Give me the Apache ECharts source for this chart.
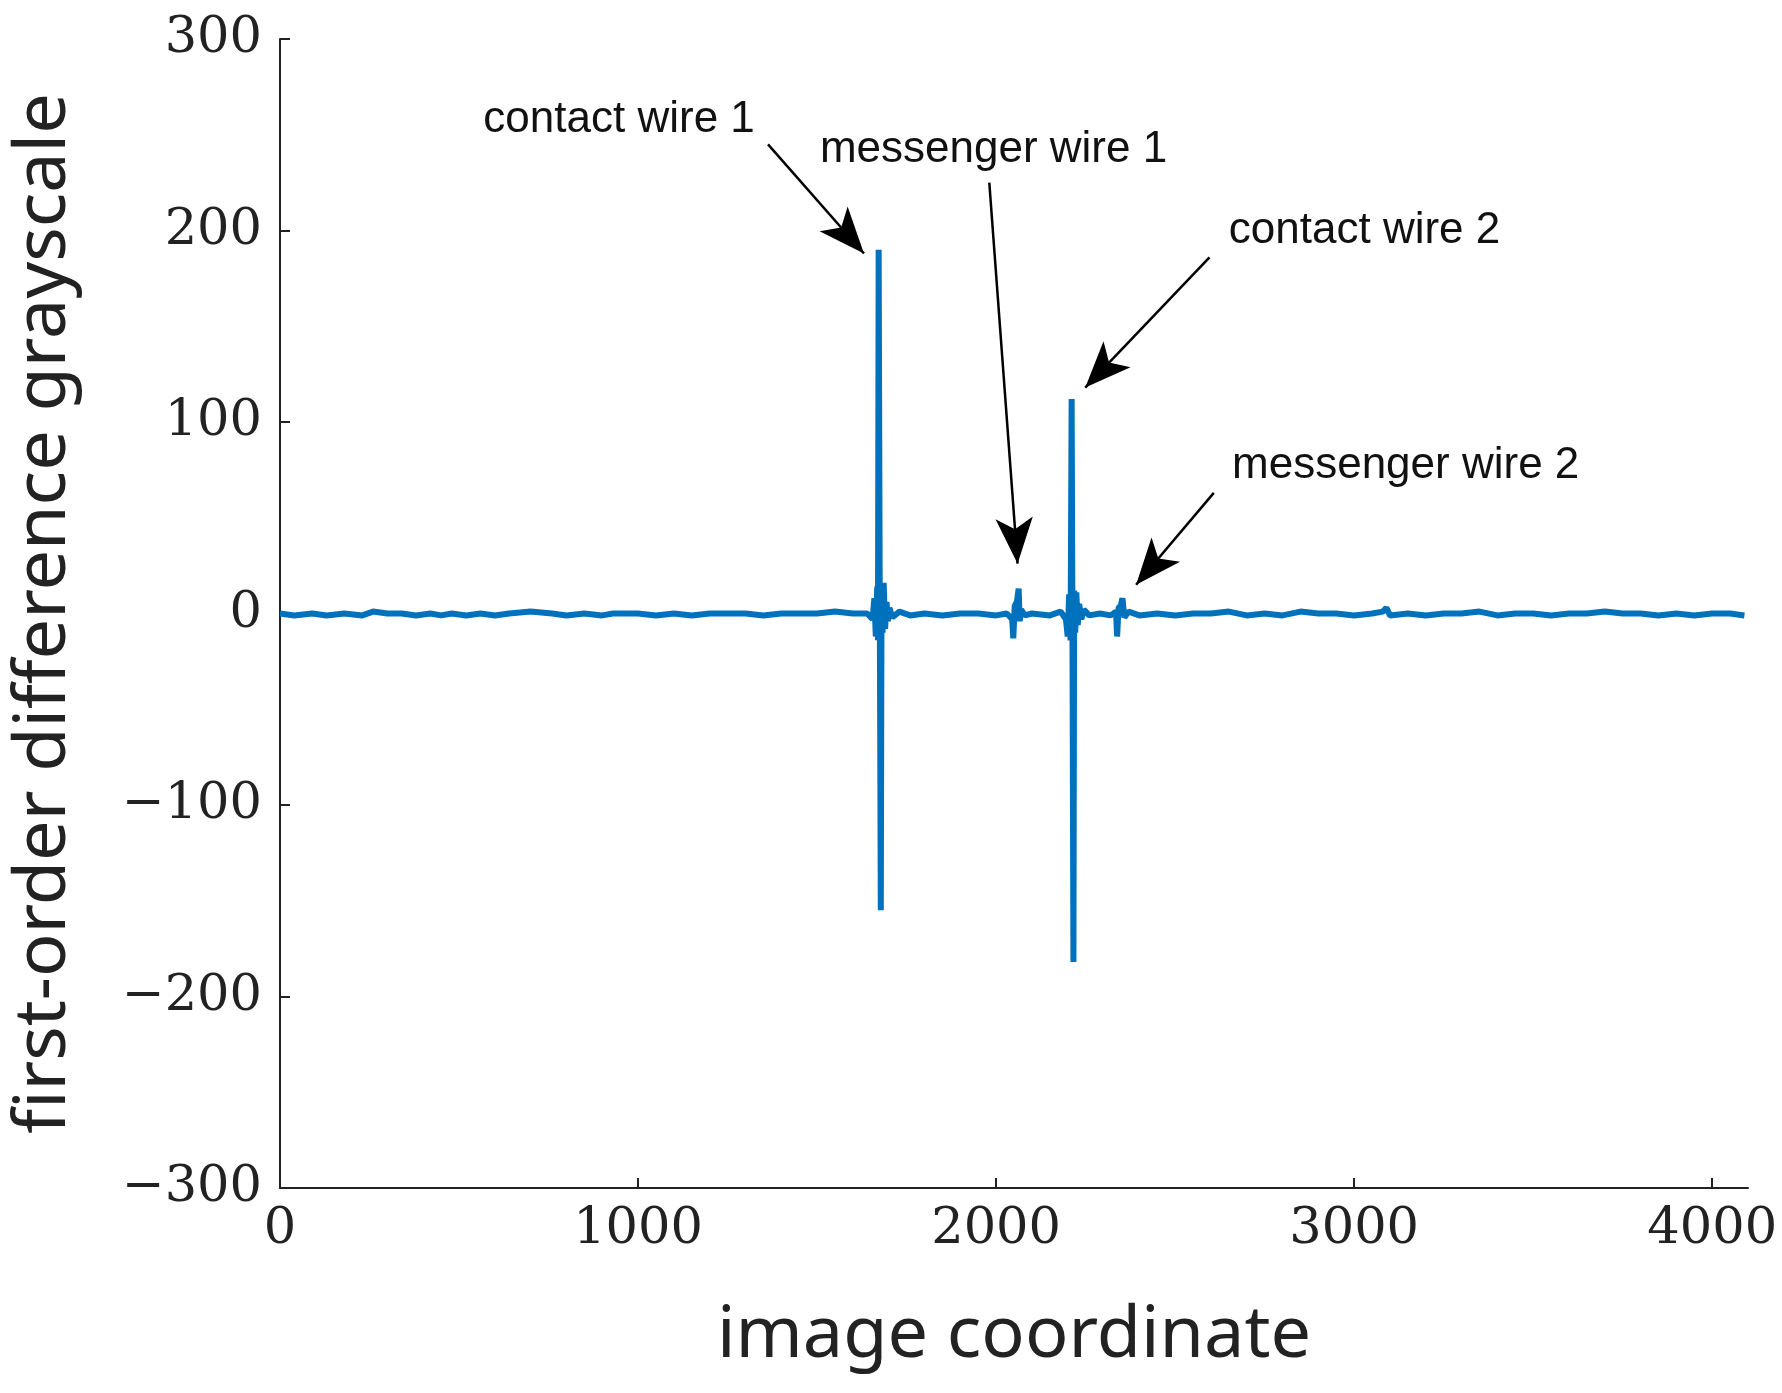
<!DOCTYPE html>
<html>
<head>
<meta charset="utf-8">
<script src="https://cdn.jsdelivr.net/npm/echarts@6/dist/echarts.min.js"></script>
<style>html,body{margin:0;padding:0;background:#fff}#main{width:1782px;height:1393px}</style>
</head>
<body>
<div id="main"></div>
<script>
// image coordinate and first-order difference values
var xs = [0, 40, 90, 130, 180, 230, 260, 300, 340, 380, 420, 450, 480, 520, 560, 600, 640, 700, 760, 800, 850,
  900, 930, 960, 1000, 1050, 1100, 1150, 1200, 1250, 1300, 1350, 1400, 1450, 1500, 1550, 1600, 1640,
  1655, 1660, 1664, 1668, 1670, 1672, 1675, 1678, 1680, 1683, 1686, 1690, 1694, 1698, 1702, 1710, 1730, 1760,
  1800, 1850, 1900, 1950, 2000, 2030, 2045, 2048, 2052, 2058, 2063, 2066, 2070, 2080, 2100, 2150, 2180, 2195,
  2200, 2204, 2208, 2211, 2213, 2216, 2218, 2221, 2224, 2228, 2232, 2238, 2245, 2260, 2290, 2320, 2335, 2338,
  2342, 2348, 2353, 2358, 2370, 2400, 2450, 2500, 2550, 2600, 2650, 2700, 2750, 2800, 2850, 2900, 2950,
  3000, 3050, 3080, 3090, 3100, 3150, 3200, 3250, 3300, 3350, 3400, 3450, 3500, 3550, 3600, 3650, 3700,
  3750, 3800, 3850, 3900, 3950, 4000, 4050, 4090];
var ys = [0, -1, 0, -1, 0, -1, 1, 0, 0, -1, 0, -1, 0, -1, 0, -1, 0, 1, 0, -1, 0,
  -1, 0, 0, 0, -1, 0, -1, 0, 0, 0, -1, 0, 0, 0, 1, 0, 0,
  -3, 8, -12, 14, -14, 190, 10, -155, 12, -10, 16, -8, 6, -4, 3, -2, 1, -1,
  0, -1, 0, 0, -1, 0, -3, -13, 4, 6, 13, -4, 2, -1, 0, -1, 1, -3,
  -12, 10, -14, 112, 8, -182, 12, -10, 11, -6, 5, -3, 2, -1, 0, -1, 1, -12,
  3, 4, 8, -2, 1, -1, 0, -1, 0, 0, 1, -1, 0, -1, 1, 0, 0,
  -1, 0, 1, 3, -1, 0, -1, 0, 0, 1, -1, 0, 0, -1, 0, 0, 1,
  0, 0, -1, 0, -1, 0, 0, -1, 0];
var yTicks = [-300, -200, -100, 0, 100, 200, 300];
var labels = [
  {name: 'contact wire 1', coord: [568, 258], from: [1363, 245], to: [1631, 188]},
  {name: 'messenger wire 1', coord: [1508, 242], from: [1981, 225], to: [2060, 26]},
  {name: 'contact wire 2', coord: [2650, 200], from: [2596, 186], to: [2249, 118]},
  {name: 'messenger wire 2', coord: [2659, 77], from: [2608, 63], to: [2391, 15]}
];

var data = xs.map(function (x, i) { return [x, ys[i]]; });
var serif = 'DejaVu Serif';
var chart = echarts.init(document.getElementById('main'));
chart.setOption({
  animation: false,
  grid: {left: 273, right: 34, top: 39, bottom: 205},
  xAxis: {
    type: 'value', min: 0, max: 4100, interval: 1000,
    name: 'image coordinate', nameLocation: 'middle', nameGap: 112,
    nameTextStyle: {fontFamily: 'Noto Sans', fontSize: 72, color: '#222'},
    axisLine: {onZero: false, lineStyle: {color: '#222', width: 2}},
    axisTick: {inside: true, length: 10, lineStyle: {color: '#222', width: 2}},
    axisLabel: {fontFamily: serif, fontSize: 51, color: '#222', margin: 16, showMaxLabel: false,
      formatter: function (v) { return v % 1000 === 0 ? String(v) : ''; }},
    splitLine: {show: false}
  },
  yAxis: {
    type: 'value', min: yTicks[0], max: yTicks[yTicks.length - 1], interval: 100,
    name: 'first-order difference grayscale', nameLocation: 'middle', nameGap: 200,
    nameTextStyle: {fontFamily: 'Noto Sans', fontSize: 72, color: '#222'},
    axisLine: {show: true, lineStyle: {color: '#222', width: 2}},
    axisTick: {show: true, inside: true, length: 10, lineStyle: {color: '#222', width: 2}},
    axisLabel: {fontFamily: serif, fontSize: 51, color: '#222', margin: 18,
      formatter: function (v) { return v < 0 ? '\u2212' + (-v) : String(v); }},
    splitLine: {show: false}
  },
  series: [{
    type: 'line', data: data, showSymbol: false,
    lineStyle: {color: '#0072BD', width: 6},
    markPoint: {
      symbol: 'circle', symbolSize: 0, silent: true,
      label: {show: true, position: 'right', distance: 0, fontFamily: 'Liberation Sans', fontSize: 44, color: '#111',
        formatter: function (p) { return p.name; }},
      data: labels.map(function (l) { return {name: l.name, coord: l.coord}; })
    },
    markLine: {
      silent: true, symbol: ['none', 'arrow'], symbolSize: [28, 46],
      lineStyle: {color: '#000', width: 2.5, type: 'solid'},
      label: {show: false},
      data: labels.map(function (l) { return [{coord: l.from}, {coord: l.to}]; })
    }
  }]
});
</script>
</body>
</html>
